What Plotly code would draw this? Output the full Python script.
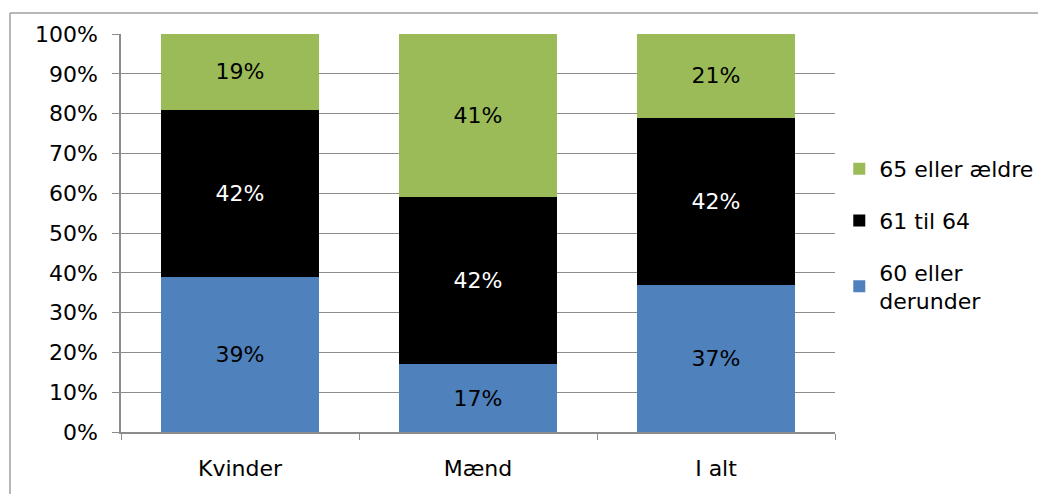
import plotly.graph_objects as go

categories = ["Kvinder", "Mænd", "I alt"]
series_names = ["60 eller<br>derunder", "61 til 64", "65 eller ældre"]
under_60 = [39, 17, 37]
age_61_64 = [42, 42, 42]
over_65 = [19, 41, 21]

_FONT = "Verdana, 'DejaVu Sans', sans-serif"
_GRID = "#8c8c8c"
_SIZE = 22

fig = go.Figure()
series = [
    (series_names[0], under_60, "#4F81BD", "black", 3),
    (series_names[1], age_61_64, "#000000", "white", 2),
    (series_names[2], over_65, "#9BBB59", "black", 1),
]
for i, (name, vals, color, tcolor, rank) in enumerate(series):
    fig.add_trace(go.Bar(
        x=categories, y=vals, name=name,
        marker=dict(color=color, line_width=0),
        text=[f"{v}%" for v in vals],
        textposition="inside", insidetextanchor="middle",
        textfont=dict(color=tcolor, size=_SIZE, family=_FONT),
        legendgroup=f"g{i}", legendrank=rank,
    ))

# outer chart border (top and left visible)
fig.add_shape(type="line", xref="paper", yref="paper",
              x0=-0.1555, x1=1.3, y0=1.0528, y1=1.0528,
              line=dict(color="#a0a0a0", width=1.5))
fig.add_shape(type="line", xref="paper", yref="paper",
              x0=-0.1555, x1=-0.1555, y0=-0.2, y1=1.0528,
              line=dict(color="#a0a0a0", width=1.5))

fig.update_layout(
    barmode="stack",
    bargap=0.333,
    width=1046, height=494,
    # page body has an 8px margin, so shift everything up/left by 8px
    margin=dict(l=113, r=219, t=26, b=70),
    plot_bgcolor="white", paper_bgcolor="white",
    font=dict(family=_FONT, size=_SIZE, color="black"),
    uniformtext=dict(minsize=_SIZE, mode="show"),
    xaxis=dict(
        showline=True, linecolor=_GRID, linewidth=1.5,
        ticks="outside", tickson="boundaries", ticklen=6, tickcolor=_GRID,
        ticklabelstandoff=16,
        tickfont=dict(size=_SIZE, color="black"),
    ),
    yaxis=dict(
        range=[0, 100], dtick=10, ticksuffix="%",
        showline=True, linecolor=_GRID, linewidth=1.5,
        ticks="outside", ticklen=7, tickcolor=_GRID,
        ticklabelstandoff=10,
        showgrid=True, gridcolor=_GRID, gridwidth=1,
        tickfont=dict(size=_SIZE, color="black"),
        zeroline=False,
    ),
    legend=dict(
        x=1.006, xanchor="left", y=0.495, yanchor="middle",
        traceorder="grouped", tracegroupgap=20,
        font=dict(size=_SIZE, color="black"),
        itemwidth=30,
    ),
)

fig.write_html("out.html")
